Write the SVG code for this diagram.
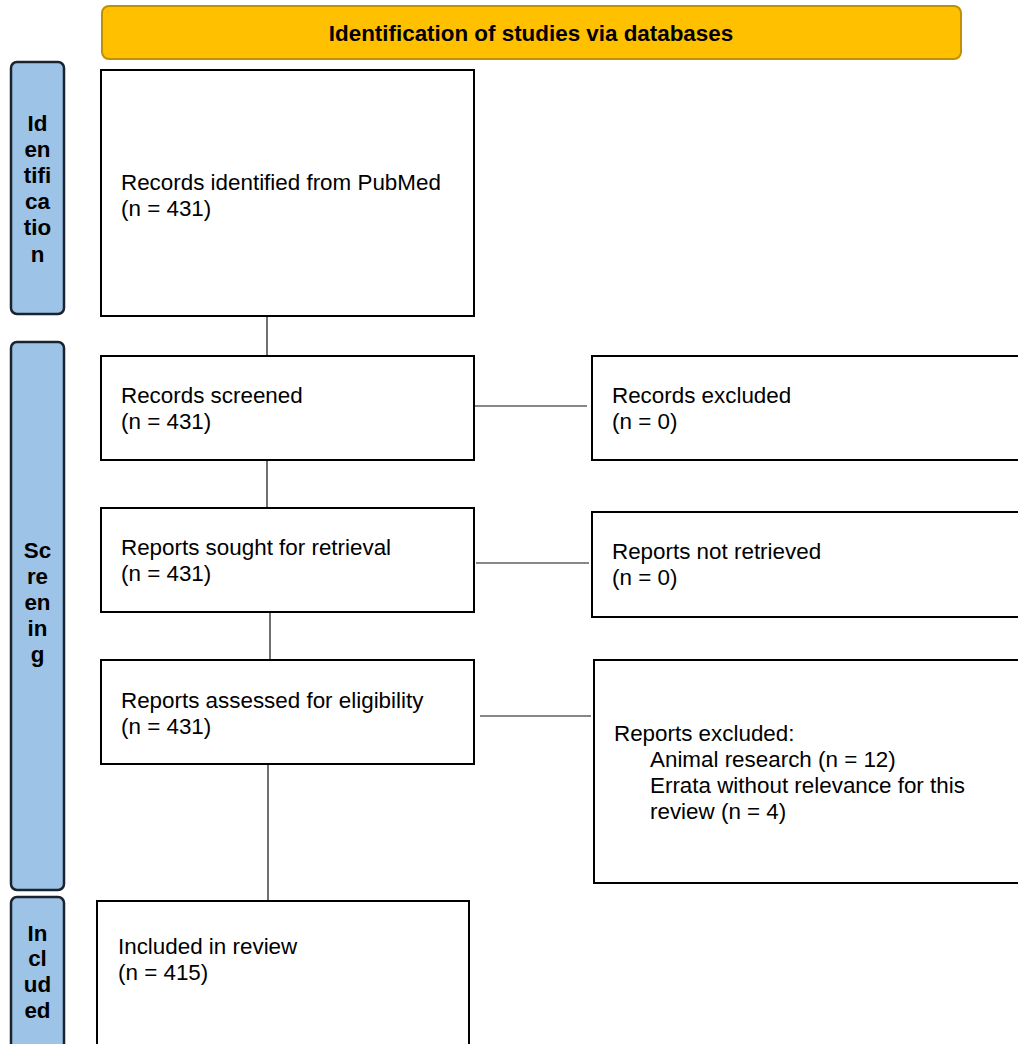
<svg xmlns="http://www.w3.org/2000/svg" width="1018" height="1044" viewBox="0 0 1018 1044">
<style>
text{font-family:"Liberation Sans",Arial,sans-serif;font-size:22.4px;fill:#000}
.b{font-weight:bold;text-anchor:middle}
.box{fill:#fff;stroke:#000;stroke-width:2}
.side{fill:#9DC3E6;stroke:#1a2330;stroke-width:2.5}
.conn line{stroke:#111;stroke-width:1.2}
</style>
<rect width="1018" height="1044" fill="#fff"/>
<g id="header">
<rect x="102" y="6" width="859" height="53" rx="7" fill="#FFC000" stroke="#BF9000" stroke-width="2"/>
<text x="531" y="41" class="b">Identification of studies via databases</text>
</g>
<g id="side-identification">
<rect x="11" y="62" width="53" height="252" rx="6" class="side"/>
<text class="b"><tspan x="37.5" y="131">Id</tspan><tspan x="37.5" y="157">en</tspan><tspan x="37.5" y="183">tifi</tspan><tspan x="37.5" y="209">ca</tspan><tspan x="37.5" y="235">tio</tspan><tspan x="37.5" y="262">n</tspan></text>
</g>
<g id="side-screening">
<rect x="11" y="342" width="53" height="548" rx="6" class="side"/>
<text class="b"><tspan x="37.5" y="558">Sc</tspan><tspan x="37.5" y="584">re</tspan><tspan x="37.5" y="610">en</tspan><tspan x="37.5" y="636">in</tspan><tspan x="37.5" y="662">g</tspan></text>
</g>
<g id="side-included">
<rect x="11" y="897" width="53" height="160" rx="6" class="side"/>
<text class="b"><tspan x="37.5" y="941">In</tspan><tspan x="37.5" y="966">cl</tspan><tspan x="37.5" y="992">ud</tspan><tspan x="37.5" y="1018">ed</tspan></text>
</g>
<g class="conn" id="connectors">
<line x1="267" y1="316" x2="267" y2="356"/>
<line x1="267" y1="460" x2="267" y2="508"/>
<line x1="270" y1="612" x2="270" y2="660"/>
<line x1="268" y1="764" x2="268" y2="901"/>
<line x1="474" y1="406" x2="587" y2="406"/>
<line x1="476" y1="563" x2="589" y2="563"/>
<line x1="480" y1="716" x2="591" y2="716"/>
</g>
<g id="n-identified">
<rect x="101" y="70" width="373" height="246" class="box"/>
<text><tspan x="121" y="190">Records identified from PubMed</tspan><tspan x="121" y="216">(n = 431)</tspan></text>
</g>
<g id="n-screened">
<rect x="101" y="356" width="373" height="104" class="box"/>
<text><tspan x="121" y="403">Records screened</tspan><tspan x="121" y="429">(n = 431)</tspan></text>
</g>
<g id="n-records-excluded">
<rect x="592" y="356" width="440" height="104" class="box"/>
<text><tspan x="612" y="403">Records excluded</tspan><tspan x="612" y="429">(n = 0)</tspan></text>
</g>
<g id="n-sought">
<rect x="101" y="508" width="373" height="104" class="box"/>
<text><tspan x="121" y="555">Reports sought for retrieval</tspan><tspan x="121" y="581">(n = 431)</tspan></text>
</g>
<g id="n-not-retrieved">
<rect x="592" y="512" width="440" height="105" class="box"/>
<text><tspan x="612" y="559">Reports not retrieved</tspan><tspan x="612" y="585">(n = 0)</tspan></text>
</g>
<g id="n-assessed">
<rect x="101" y="660" width="373" height="104" class="box"/>
<text><tspan x="121" y="708">Reports assessed for eligibility</tspan><tspan x="121" y="734">(n = 431)</tspan></text>
</g>
<g id="n-reports-excluded">
<rect x="594" y="660" width="440" height="223" class="box"/>
<text><tspan x="614" y="741">Reports excluded:</tspan><tspan x="650" y="767">Animal research (n = 12)</tspan><tspan x="650" y="793">Errata without relevance for this</tspan><tspan x="650" y="819">review (n = 4)</tspan></text>
</g>
<g id="n-included">
<rect x="97" y="901" width="372" height="160" class="box"/>
<text><tspan x="118" y="954">Included in review</tspan><tspan x="118" y="980">(n = 415)</tspan></text>
</g>
</svg>
